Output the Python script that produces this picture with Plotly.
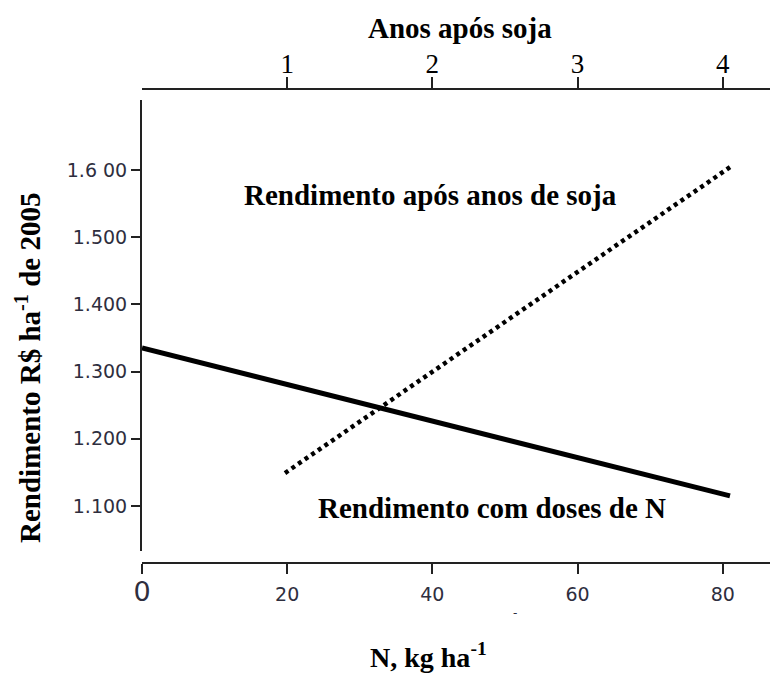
import plotly.graph_objects as go

# ---- data ----
dose_n = [0, 81]                     # N, kg/ha (bottom axis)
rend_dose = [1.335, 1.115]           # R$/ha, line "Rendimento com doses de N"
anos = [0.985, 4.05]                 # years after soybean (top axis)
rend_anos = [1.149, 1.604]           # R$/ha, line "Rendimento após anos de soja"

y_tickvals = [1.1, 1.2, 1.3, 1.4, 1.5, 1.6]
y_ticktext = ["1.100", "1.200", "1.300", "1.400", "1.500", "1.6 00"]
x_tickvals = [0, 20, 40, 60, 80]
x_ticktext = ["<span style='font-size:27px'>0</span>", "20", "40", "60", "80"]
x2_tickvals = [1, 2, 3, 4]
x2_ticktext = ["1", "2", "3", "4"]

OFF = 8                      # default page margin of the browser body
W, H = 778 - OFF, 675 - OFF  # figure size so it fits the window
L, R, T, B = 142 - OFF, 3, 89 - OFF, 675 - 563
PW, PH = W - L - R, H - T - B

def px(x):
    return (x - OFF - L) / PW

def py(y):
    return (H - B - (y - OFF)) / PH

serif = "Liberation Serif"
sans = "DejaVu Sans"
tickcol = "#2e2e3e"
axcol = "#222222"

fig = go.Figure()
fig.add_trace(go.Scatter(x=dose_n, y=rend_dose, mode="lines",
                         line=dict(color="black", width=5),
                         xaxis="x", yaxis="y", showlegend=False))
fig.add_trace(go.Scatter(x=anos, y=rend_anos, mode="lines",
                         line=dict(color="black", width=4.5, dash="4px,4px"),
                         xaxis="x2", yaxis="y", showlegend=False))

fig.update_layout(
    width=W, height=H,
    margin=dict(l=L, r=R, t=T, b=B, pad=0),
    plot_bgcolor="white", paper_bgcolor="white",
    showlegend=False,
    xaxis=dict(range=[0, 87.2], domain=[0, 1], anchor="free", position=0,
               showline=True, linecolor=axcol, linewidth=2,
               ticks="outside", ticklen=10, tickwidth=2, tickcolor=axcol,
               tickvals=x_tickvals, ticktext=x_ticktext, ticklabelstandoff=4,
               tickfont=dict(family=sans, size=19, color=tickcol),
               showgrid=False, zeroline=False),
    xaxis2=dict(range=[0, 4.36], overlaying="x", side="top", anchor="free", position=1,
                showline=True, linecolor=axcol, linewidth=2,
                ticks="outside", ticklen=11, tickwidth=2, tickcolor=axcol,
                tickvals=x2_tickvals, ticktext=x2_ticktext, ticklabelstandoff=-7,
                tickfont=dict(family=serif, size=27, color="black"),
                showgrid=False, zeroline=False),
    yaxis=dict(range=[1.033, 1.704], domain=[py(551), py(100)], anchor="x",
               showline=True, linecolor=axcol, linewidth=2,
               ticks="outside", ticklen=9, tickwidth=2, tickcolor=axcol,
               tickvals=y_tickvals, ticktext=y_ticktext,
               tickfont=dict(family=sans, size=19, color=tickcol),
               showgrid=False, zeroline=False),
)

ann = [
    dict(text="<b>Rendimento R$ ha<sup>-1</sup> de 2005</b>", x=px(28), y=py(368), textangle=-90, size=29),
    dict(text="<b>Anos após soja</b>", x=px(460), y=py(28), textangle=0, size=29),
    dict(text="<b>N, kg ha<sup>-1</sup></b>", x=px(428), y=py(655), textangle=0, size=28),
    dict(text="<b>Rendimento após anos de soja</b>", x=px(430), y=py(195), textangle=0, size=29),
    dict(text="<b>Rendimento com doses de N</b>", x=px(492), y=py(508), textangle=0, size=29),
]
for a in ann:
    fig.add_annotation(text=a["text"], x=a["x"], y=a["y"], xref="paper", yref="paper",
                       xanchor="center", yanchor="middle", showarrow=False,
                       textangle=a["textangle"],
                       font=dict(family=serif, size=a["size"], color="black"))
fig.add_annotation(text="-", x=px(515), y=py(622), xref="paper", yref="paper",
                   showarrow=False, font=dict(family=sans, size=12, color=tickcol))

fig.write_html("out.html")
